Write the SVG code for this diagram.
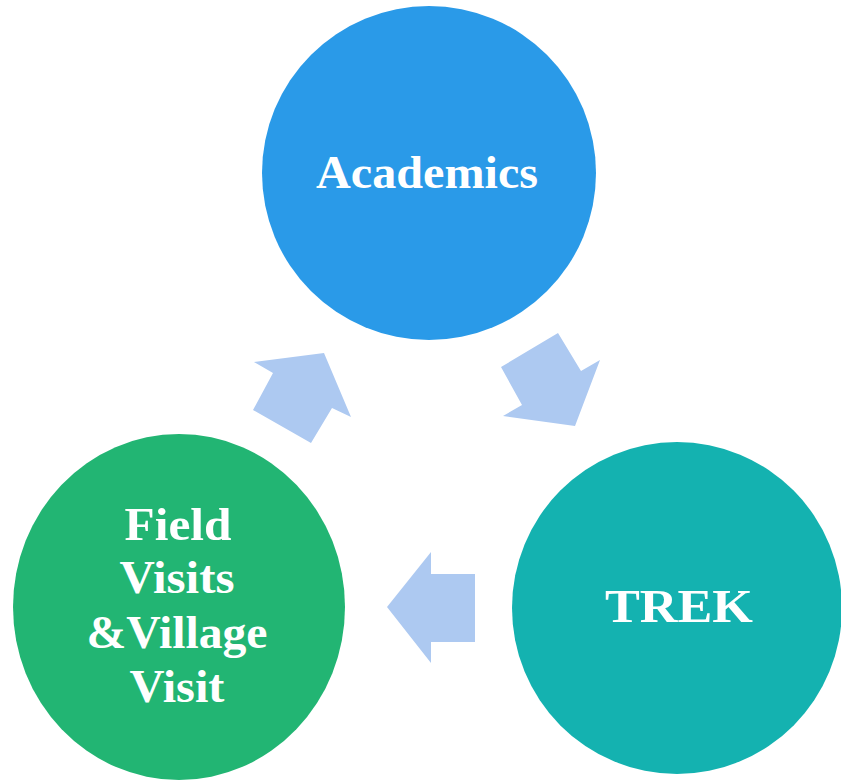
<svg xmlns="http://www.w3.org/2000/svg" width="841" height="781" viewBox="0 0 841 781">
<style>
.lbl{font-family:"Liberation Serif","DejaVu Serif",serif;font-weight:bold;font-size:47px;fill:#fff;text-anchor:middle}
.arr{fill:#ADC9F1}
</style>
<rect width="841" height="781" fill="#fff"/>
<g id="connectors">
<polygon class="arr" points="254,362 324,353 351,417 332,408 311,443 253,410 273,373"/>
<polygon class="arr" points="501,367 558,333 581,371 600,360 575,426 503,416 522,405"/>
<polygon class="arr" points="387,607 431,552 431,574 475,574 475,642 431,642 431,663"/>
</g>
<g id="academics">
<ellipse cx="429" cy="173" rx="167" ry="167" fill="#2A9AE8"/>
<text class="lbl" x="427" y="188" textLength="222" lengthAdjust="spacingAndGlyphs">Academics</text>
</g>
<g id="trek">
<ellipse cx="677" cy="608" rx="165" ry="166" fill="#14B2B0"/>
<text class="lbl" x="679" y="622" textLength="148" lengthAdjust="spacingAndGlyphs">TREK</text>
</g>
<g id="field">
<ellipse cx="179" cy="607" rx="166" ry="173" fill="#22B573"/>
<text class="lbl" x="178" y="540" textLength="107" lengthAdjust="spacingAndGlyphs">Field</text>
<text class="lbl" x="177" y="593" textLength="115" lengthAdjust="spacingAndGlyphs">Visits</text>
<text class="lbl" x="177" y="648" textLength="181" lengthAdjust="spacingAndGlyphs">&amp;Village</text>
<text class="lbl" x="177" y="702" textLength="95" lengthAdjust="spacingAndGlyphs">Visit</text>
</g>
</svg>
